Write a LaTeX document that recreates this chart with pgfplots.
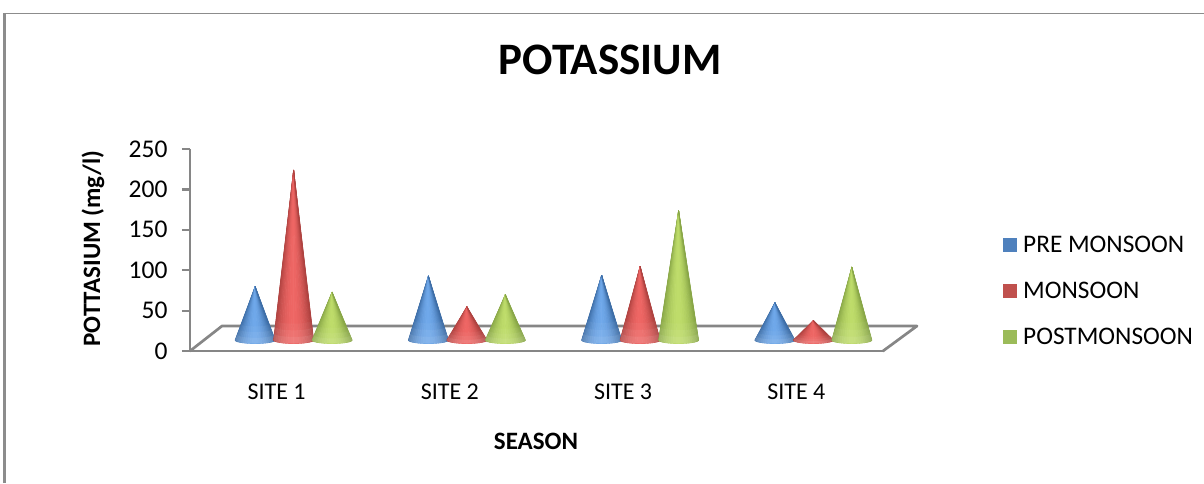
\documentclass[border=0pt]{standalone}
\usepackage{fontspec}
\setmainfont{Carlito}
\usepackage{pgfplots}
\usepackage{pgfplotstable}
\pgfplotsset{compat=1.18}
\definecolor{axgray}{HTML}{868686}
\definecolor{frgray}{HTML}{8C8C8C}
\definecolor{bluedk}{HTML}{3D6DA6}
\definecolor{bluelt}{HTML}{6FA8EA}
\definecolor{reddk}{HTML}{AE4240}
\definecolor{redlt}{HTML}{EE6664}
\definecolor{greendk}{HTML}{88A647}
\definecolor{greenlt}{HTML}{BEDC6A}
\definecolor{bluelg}{HTML}{4F81BD}
\definecolor{redlg}{HTML}{C0504D}
\definecolor{greenlg}{HTML}{9BBB59}
\pgfplotstableread{
site pre mon post
1 66 210 59
2 79 41 56
3 80 91 160
4 46 24 90
}\potassium
\def\coneW{0.1154}
\def\coneB{4.35}
\newcommand\conewedges[4]{%
  \foreach \wi in {0,...,23}{%
    \pgfmathsetmacro\ta{180+7.5*\wi}%
    \pgfmathsetmacro\tb{\ta+7.5}%
    \pgfmathsetmacro\xa{#1+\coneW*cos(\ta)}%
    \pgfmathsetmacro\xb{#1+\coneW*cos(\tb)}%
    \pgfmathsetmacro\ya{\coneB*sin(\ta)}%
    \pgfmathsetmacro\yb{\coneB*sin(\tb)}%
    \pgfmathsetmacro\mixv{100*pow(abs(sin(\ta+3.75)),2)}%
    \edef\temp{\noexpand\addplot[forget plot,draw=#4!\mixv!#3,line width=.7pt,line join=round,fill=#4!\mixv!#3] coordinates {(\xa,\ya)(\xb,\yb)(#1,#2)} --cycle;}\temp
  }%
}
\newcommand\conebase[4]{%
  \gdef\poly{}%
  \foreach \angl in {180,195,...,360}{%
    \pgfmathsetmacro\px{#1+\coneW*cos(\angl)}%
    \pgfmathsetmacro\py{\coneB*sin(\angl)}%
    \xdef\poly{\poly(\px,\py)}%
  }%
  \foreach \angl in {360,345,...,180}{%
    \pgfmathsetmacro\px{#1+(1-#3)*\coneW*cos(\angl)}%
    \pgfmathsetmacro\py{#3*#2+(1-#3)*\coneB*sin(\angl)}%
    \xdef\poly{\poly(\px,\py)}%
  }%
  \edef\temp{\noexpand\addplot[forget plot,draw=none,fill=white,fill opacity=#4] coordinates {\poly} --cycle;}\temp
}
\newcommand\cone[5]{% row, column, offset, dark, light
  \pgfplotstablegetelem{#1}{#2}\of\potassium
  \edef\cv{\pgfplotsretval}%
  \pgfmathsetmacro\cx{#1+1+#3}%
  \conewedges{\cx}{\cv}{#4}{#5}%
  \pgfmathsetmacro\tone{min(0.30,24/\cv)}%
  \pgfmathsetmacro\ttwo{min(0.20,16/\cv)}%
  \pgfmathsetmacro\tthree{min(0.10,8/\cv)}%
  \conebase{\cx}{\cv}{\tone}{0.04}%
  \conebase{\cx}{\cv}{\ttwo}{0.05}%
  \conebase{\cx}{\cv}{\tthree}{0.07}%
}
\begin{document}
\begin{tikzpicture}[x=1pt,y=1pt]
\useasboundingbox (0,0) rectangle (1204,483);
% outer frame
\draw[frgray,line width=3pt] (4.7,0) -- (4.7,469);
\draw[frgray,line width=1.5pt] (3.2,469.3) -- (1204,469.3);
% floor
\draw[axgray,line width=2.7pt,line cap=round,line join=round] (190,132) -- (222,157) -- (917,157) -- (883,132);
\begin{axis}[
  at={(190pt,132pt)},anchor=origin,
  scale only axis,width=693pt,height=202pt,
  xmin=0.5,xmax=4.5,ymin=0,ymax=250,
  axis y line*=left,axis x line*=bottom,
  axis line style={axgray,line width=2.7pt,-},
  x axis line style={-},y axis line style={-},
  xtick={1,2,3,4},xticklabels={SITE 1,SITE 2,SITE 3,SITE 4},
  ytick={0,50,100,150,200,250},
  major tick length=8pt,
  tick align=outside,
  ytick style={axgray,line width=2.2pt},
  xtick style={draw=none},
  /pgf/number format/assume math mode=true,
  tick label style={black},
  yticklabel style={font=\fontsize{25.5}{25.5}\selectfont,xshift=-11pt},
  xticklabel style={font=\fontsize{24}{24}\selectfont,anchor=center,yshift=-33pt},
  title={\bfseries POTASSIUM},
  title style={at={(rel axis cs:0.606,1.41)},anchor=center,font=\fontsize{45}{45}\selectfont},
  xlabel={\bfseries SEASON},
  xlabel style={at={(rel axis cs:0.4993,-0.4455)},anchor=center,font=\fontsize{25}{25}\selectfont},
  ylabel={\bfseries POTTASIUM (mg/l)},
  ylabel style={at={(rel axis cs:-0.14,0.507)},anchor=center,font=\fontsize{25}{25}\selectfont},
]
\end{axis}
\begin{axis}[
  at={(207pt,143pt)},anchor=origin,
  scale only axis,width=693pt,height=202pt,
  xmin=0.5,xmax=4.5,ymin=0,ymax=250,
  hide axis,clip=false,
  legend style={at={(rel axis cs:1.1486,0.515)},anchor=north west,draw=none,fill=none,
    inner sep=0pt,row sep=28pt,font=\fontsize{25.3}{25.3}\selectfont,
    nodes={inner sep=0pt,anchor=west}},
  legend cell align=left,
]
\addplot[draw=none,legend image code/.code={\fill[bluelg] (0pt,-7pt) rectangle (14pt,7pt);}] table[x=site,y=pre]{\potassium};
\addlegendentry{\hspace{6pt}PRE MONSOON}
\addplot[draw=none,legend image code/.code={\fill[redlg] (0pt,-7pt) rectangle (14pt,7pt);}] table[x=site,y=mon]{\potassium};
\addlegendentry{\hspace{6pt}MONSOON}
\addplot[draw=none,legend image code/.code={\fill[greenlg] (0pt,-7pt) rectangle (14pt,7pt);}] table[x=site,y=post]{\potassium};
\addlegendentry{\hspace{6pt}POSTMONSOON}
\cone{0}{pre}{-0.222}{bluedk}{bluelt}
\cone{0}{mon}{0}{reddk}{redlt}
\cone{0}{post}{0.222}{greendk}{greenlt}
\cone{1}{pre}{-0.222}{bluedk}{bluelt}
\cone{1}{mon}{0}{reddk}{redlt}
\cone{1}{post}{0.222}{greendk}{greenlt}
\cone{2}{pre}{-0.222}{bluedk}{bluelt}
\cone{2}{mon}{0}{reddk}{redlt}
\cone{2}{post}{0.222}{greendk}{greenlt}
\cone{3}{pre}{-0.222}{bluedk}{bluelt}
\cone{3}{mon}{0}{reddk}{redlt}
\cone{3}{post}{0.222}{greendk}{greenlt}
\end{axis}
\end{tikzpicture}
\end{document}
